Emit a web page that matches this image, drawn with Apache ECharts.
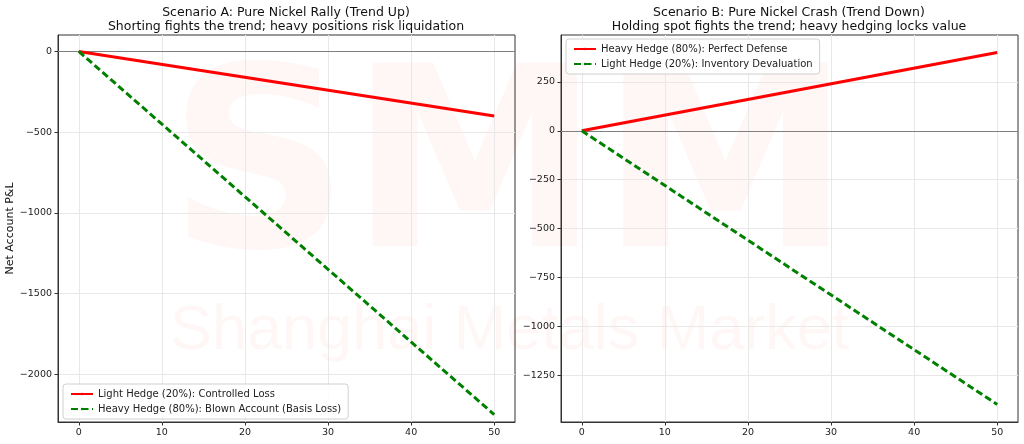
<!DOCTYPE html>
<html><head><meta charset="utf-8">
<script src="https://cdn.jsdelivr.net/npm/echarts@6/dist/echarts.min.js"></script>
<style>html,body{margin:0;padding:0;background:#fff}#c{width:1024px;height:444px}</style>
</head><body><div id="c"></div>
<script>
const xDays = [0, 50];
const xTicks = [0, 10, 20, 30, 40, 50];
const aLight = [0, -400];
const aHeavy = [0, -2250];
const aTicks = [-2000, -1500, -1000, -500, 0];
const bHeavy = [0, 400];
const bLight = [0, -1400];
const bTicks = [-1250, -1000, -750, -500, -250, 0, 250];
const titleA = 'Scenario A: Pure Nickel Rally (Trend Up)\nShorting fights the trend; heavy positions risk liquidation';
const titleB = 'Scenario B: Pure Nickel Crash (Trend Down)\nHolding spot fights the trend; heavy hedging locks value';
const namesA = ['Light Hedge (20%): Controlled Loss', 'Heavy Hedge (80%): Blown Account (Basis Loss)'];
const namesB = ['Heavy Hedge (80%): Perfect Defense', 'Light Hedge (20%): Inventory Devaluation'];

const FONT = 'DejaVu Sans';
const pairs = (xs, ys) => xs.map((x, i) => [x, ys[i]]);
const fmt = v => String(v).replace('-', '\u2212');
const axisCommon = {
  axisLine: { show: true, onZero: false, lineStyle: { color: '#333', width: 1 } },
  axisTick: { show: true, length: 3.5, lineStyle: { color: '#333' } },
  axisLabel: { color: '#222', fontSize: 9.5, fontFamily: FONT, formatter: fmt },
  splitLine: { show: true, lineStyle: { color: '#e8e8e8', width: 1 } }
};
function xAxis(gi) {
  return Object.assign({}, axisCommon, {
    type: 'value', gridIndex: gi, min: -2.5, max: 52.5,
    axisTick: Object.assign({}, axisCommon.axisTick, { customValues: xTicks }),
    axisLabel: Object.assign({}, axisCommon.axisLabel, { customValues: xTicks, margin: 6 })
  });
}
function yAxis(gi, min, max, ticks, name) {
  return Object.assign({}, axisCommon, {
    type: 'value', gridIndex: gi, min: min, max: max,
    name: name || '', nameLocation: 'middle', nameGap: 42, nameRotate: 90,
    nameTextStyle: { fontSize: 11, fontFamily: FONT, color: '#111' },
    axisTick: Object.assign({}, axisCommon.axisTick, { customValues: ticks }),
    axisLabel: Object.assign({}, axisCommon.axisLabel, { customValues: ticks, margin: 6 })
  });
}
const zeroLine = {
  silent: true, symbol: 'none', label: { show: false },
  lineStyle: { color: '#808080', width: 1, type: 'solid' },
  data: [{ yAxis: 0 }]
};
function lineSeries(name, gi, ys, color, dashed, withZero) {
  const s = {
    name: name, type: 'line', xAxisIndex: gi, yAxisIndex: gi,
    data: pairs(xDays, ys), showSymbol: false, symbol: 'none', z: 5,
    lineStyle: { color: color, width: 3, type: dashed ? [7, 3.5] : 'solid' },
    itemStyle: { color: color }, animation: false
  };
  if (withZero) s.markLine = zeroLine;
  return s;
}
const legendCommon = {
  orient: 'vertical', backgroundColor: 'rgba(255,255,255,0.85)', borderColor: '#d0d0d0',
  borderWidth: 1, borderRadius: 3, padding: [5, 7], itemGap: 5, itemWidth: 22, itemHeight: 3,
  textStyle: { fontSize: 10, fontFamily: FONT, color: '#222' }
};
const chart = echarts.init(document.getElementById('c'), null, { renderer: 'canvas' });
chart.setOption({
  animation: false,
  backgroundColor: '#fff',
  title: [
    { text: titleA, left: 286, top: 6, padding: 0, textAlign: 'center',
      textStyle: { fontSize: 12.5, fontWeight: 'normal', fontFamily: FONT, color: '#111', lineHeight: 14 } },
    { text: titleB, left: 789, top: 6, padding: 0, textAlign: 'center',
      textStyle: { fontSize: 12.5, fontWeight: 'normal', fontFamily: FONT, color: '#111', lineHeight: 14 } }
  ],
  graphic: [
    { type: 'text', left: 168, top: 55, z: 0, silent: true,
      style: { text: 'SMM', fontSize: 252, fontWeight: 'bold', fontFamily: 'DejaVu Sans', fill: 'rgba(255,0,0,0.035)' } },
    { type: 'text', left: 170, top: 300, z: 0, silent: true,
      style: { text: 'Shanghai Metals Market', fontSize: 63, fontFamily: 'Liberation Sans', fill: 'rgba(255,0,0,0.035)' } }
  ],
  grid: [
    { left: 58, top: 35, width: 457, height: 387, show: true, borderColor: '#333', borderWidth: 1, backgroundColor: 'transparent' },
    { left: 561, top: 35, width: 457, height: 387, show: true, borderColor: '#333', borderWidth: 1, backgroundColor: 'transparent' }
  ],
  xAxis: [xAxis(0), xAxis(1)],
  yAxis: [yAxis(0, -2296, 102, aTicks, 'Net Account P&L'), yAxis(1, -1490, 490, bTicks)],
  legend: [
    Object.assign({}, legendCommon, { left: 63, top: 384, data: namesA }),
    Object.assign({}, legendCommon, { left: 566, top: 39, data: namesB })
  ],
  series: [
    lineSeries(namesA[0], 0, aLight, '#ff0000', false, true),
    lineSeries(namesA[1], 0, aHeavy, '#008000', true, false),
    lineSeries(namesB[0], 1, bHeavy, '#ff0000', false, true),
    lineSeries(namesB[1], 1, bLight, '#008000', true, false)
  ]
});
</script></body></html>
